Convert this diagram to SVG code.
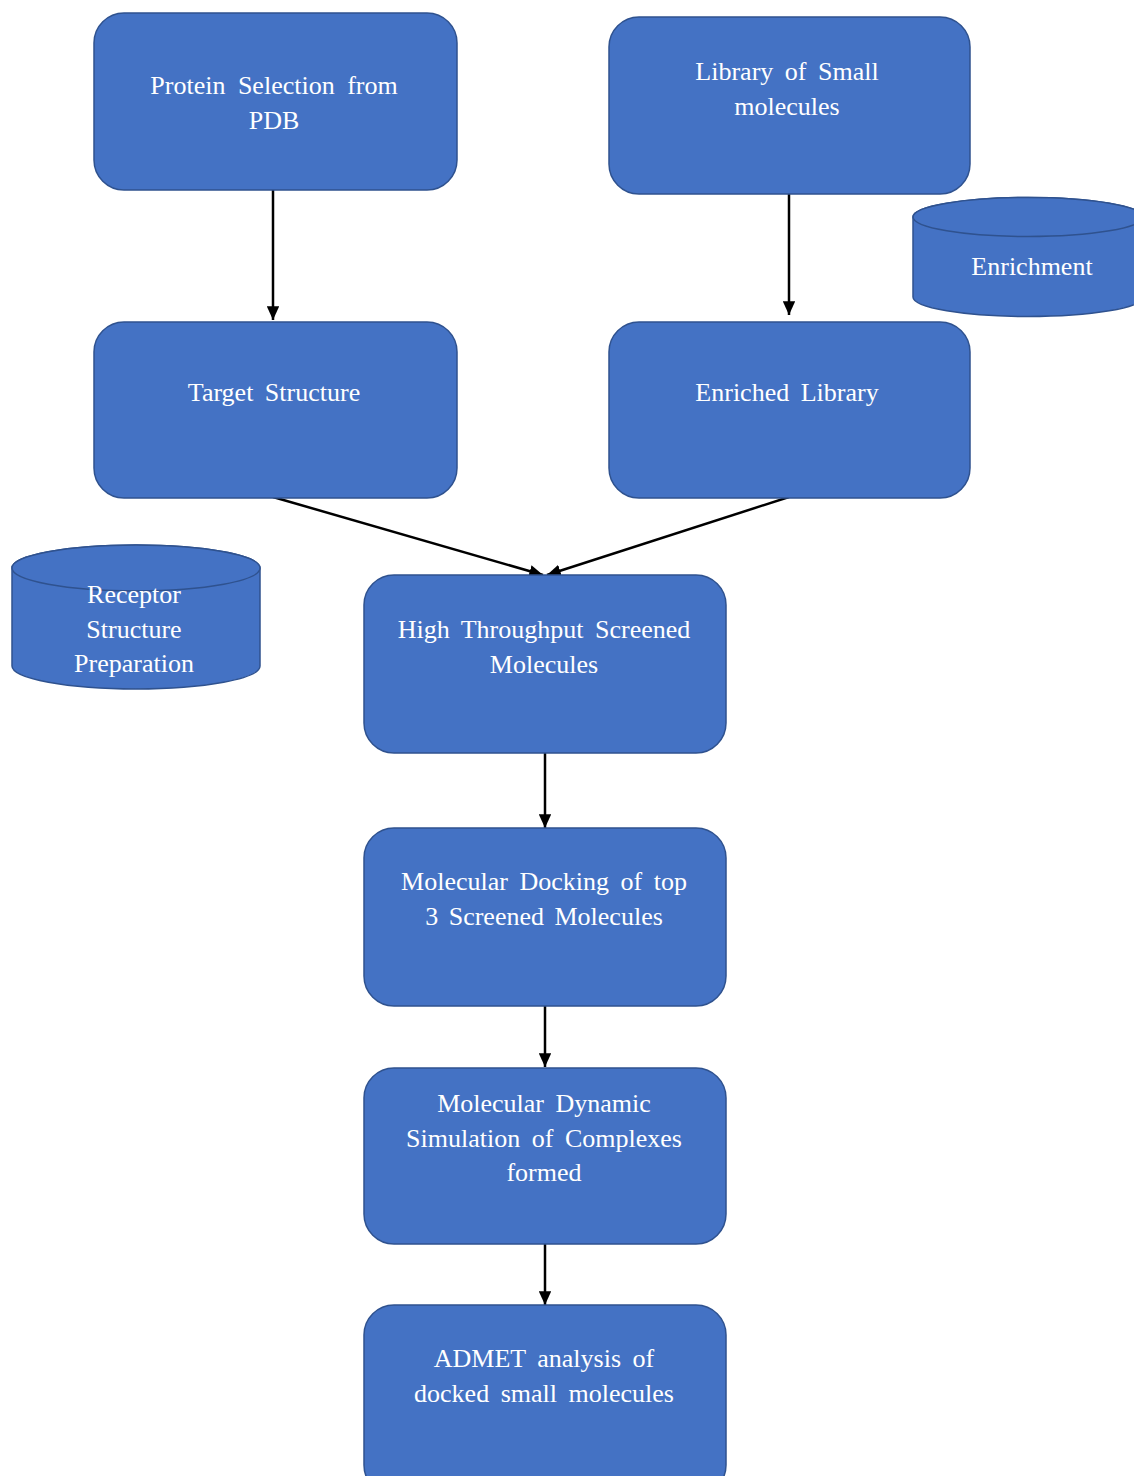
<svg xmlns="http://www.w3.org/2000/svg" width="1134" height="1476" viewBox="0 0 1134 1476">
<defs>
<style>
.box{fill:#4472C4;stroke:#2F528F;stroke-width:1.5}
.cyl{fill:#4472C4;stroke:#2F528F;stroke-width:1.5}
.t{font-size:26px;fill:#ffffff;text-anchor:middle}
.c{stroke:#000;stroke-width:2.5;fill:none;marker-end:url(#ah)}
</style>
<marker id="ah" viewBox="0 0 10 10" refX="10" refY="5" markerWidth="5.5" markerHeight="5" markerUnits="strokeWidth" orient="auto" preserveAspectRatio="none">
<path d="M0,0 L10,5 L0,10 z" fill="#000"/>
</marker>
</defs>
<rect width="1134" height="1476" fill="#ffffff"/>
<g id="connectors">
<line class="c" x1="273" y1="190" x2="273" y2="320"/>
<line class="c" x1="789" y1="194" x2="789" y2="315"/>
<line class="c" x1="273" y1="497" x2="543" y2="575"/>
<line class="c" x1="789" y1="497" x2="547" y2="575"/>
<line class="c" x1="545" y1="753" x2="545" y2="828"/>
<line class="c" x1="545" y1="1006" x2="545" y2="1067"/>
<line class="c" x1="545" y1="1244" x2="545" y2="1305"/>
</g>
<g font-family="Liberation Serif, Tinos, Times New Roman, DejaVu Serif, serif">
<g id="protein-selection">
<rect class="box" x="94" y="13" width="363" height="177" rx="30"/>
<text class="t" x="274" y="94" word-spacing="6">Protein Selection from</text>
<text class="t" x="274" y="129">PDB</text>
</g>
<g id="library">
<rect class="box" x="609" y="17" width="361" height="177" rx="30"/>
<text class="t" x="787" y="80" word-spacing="5">Library of Small</text>
<text class="t" x="787" y="115">molecules</text>
</g>
<g id="enrichment">
<path class="cyl" d="M913,217 A115,19.5 0 0 1 1143,217 L1143,297 A115,19.5 0 0 1 913,297 Z"/>
<ellipse class="cyl" cx="1028" cy="217" rx="115" ry="19.5"/>
<text class="t" x="1032" y="275">Enrichment</text>
</g>
<g id="target-structure">
<rect class="box" x="94" y="322" width="363" height="176" rx="30"/>
<text class="t" x="274" y="401" word-spacing="5">Target Structure</text>
</g>
<g id="enriched-library">
<rect class="box" x="609" y="322" width="361" height="176" rx="30"/>
<text class="t" x="787" y="401" word-spacing="5">Enriched Library</text>
</g>
<g id="receptor-preparation">
<path class="cyl" d="M12,568 A124,23 0 0 1 260,568 L260,666 A124,23 0 0 1 12,666 Z"/>
<ellipse class="cyl" cx="136" cy="568" rx="124" ry="23"/>
<text class="t" x="134" y="603">Receptor</text>
<text class="t" x="134" y="638">Structure</text>
<text class="t" x="134" y="672">Preparation</text>
</g>
<g id="hts">
<rect class="box" x="364" y="575" width="362" height="178" rx="30"/>
<text class="t" x="544" y="638" word-spacing="5">High Throughput Screened</text>
<text class="t" x="544" y="673">Molecules</text>
</g>
<g id="docking">
<rect class="box" x="364" y="828" width="362" height="178" rx="30"/>
<text class="t" x="544" y="890" word-spacing="5">Molecular Docking of top</text>
<text class="t" x="544" y="925" word-spacing="4">3 Screened Molecules</text>
</g>
<g id="md-simulation">
<rect class="box" x="364" y="1068" width="362" height="176" rx="30"/>
<text class="t" x="544" y="1112" word-spacing="5">Molecular Dynamic</text>
<text class="t" x="544" y="1147" word-spacing="5">Simulation of Complexes</text>
<text class="t" x="544" y="1181">formed</text>
</g>
<g id="admet">
<rect class="box" x="364" y="1305" width="362" height="190" rx="30"/>
<text class="t" x="544" y="1367" word-spacing="5">ADMET analysis of</text>
<text class="t" x="544" y="1402" word-spacing="5">docked small molecules</text>
</g>
</g>
</svg>
